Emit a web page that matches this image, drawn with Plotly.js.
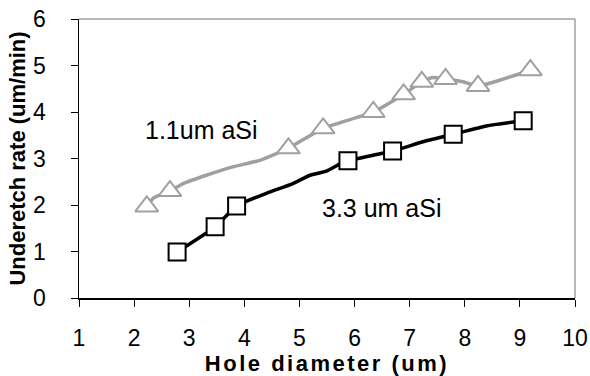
<!DOCTYPE html>
<html>
<head>
<meta charset="utf-8">
<script src="https://cdn.plot.ly/plotly-3.0.1.min.js"></script>
<style>
  html, body { margin: 0; padding: 0; background: #fff; }
  #chart { width: 590px; height: 376px; }
  .xtitle { letter-spacing: 2.5px; }
</style>
</head>
<body>
<div id="chart"></div>
<script>
// 1.1 um aSi (triangles)
const thinX = [2.23, 2.65, 4.80, 5.43, 6.34, 6.89, 7.22, 7.65, 8.24, 9.19];
const thinY = [1.97, 2.30, 3.22, 3.65, 4.00, 4.38, 4.65, 4.71, 4.56, 4.90];
// 1.1 um aSi drawn curve (includes intermediate points of the smoothed line)
const thinLineX = [2.23, 2.35, 2.65, 2.89, 3.31, 3.79, 4.28, 4.80, 5.43, 6.34, 6.89, 7.22, 7.42, 7.65, 7.97, 8.24, 9.19];
const thinLineY = [1.97, 2.15, 2.30, 2.46, 2.64, 2.82, 2.96, 3.22, 3.65, 4.00, 4.38, 4.65, 4.74, 4.71, 4.65, 4.56, 4.90];

// 3.3 um aSi (squares)
const thickX = [2.78, 3.47, 3.86, 5.88, 6.69, 7.79, 9.06];
const thickY = [0.99, 1.53, 1.98, 2.95, 3.16, 3.52, 3.81];
const thickLineX = [2.78, 3.47, 3.86, 4.40, 4.88, 5.19, 5.49, 5.73, 5.88, 6.69, 7.24, 7.79, 8.39, 9.06];
const thickLineY = [0.99, 1.53, 1.98, 2.25, 2.46, 2.64, 2.73, 2.88, 2.95, 3.16, 3.36, 3.52, 3.70, 3.81];

const xTicks = [1, 2, 3, 4, 5, 6, 7, 8, 9, 10];
const yTicks = [0, 1, 2, 3, 4, 5, 6];

const labels = [
  {text: '1.1um aSi', x: 3.22, y: 3.61},
  {text: '3.3 um aSi', x: 6.50, y: 1.94}
];

const gray = '#a0a0a0';
const font = 'Liberation Sans, Arial, sans-serif';

const traces = [
  {x: thinLineX, y: thinLineY, mode: 'lines', line: {color: gray, width: 3.5, shape: 'spline', smoothing: 0.5}, hoverinfo: 'skip'},
  {x: thickLineX, y: thickLineY, mode: 'lines', line: {color: '#000', width: 3.5, shape: 'spline', smoothing: 0.5}, hoverinfo: 'skip'},
  {x: thinX, y: thinY, mode: 'markers', marker: {symbol: 'triangle-up', size: 20, color: '#fff', line: {color: gray, width: 2}}},
  {x: thickX, y: thickY, mode: 'markers', marker: {symbol: 'square', size: 17, color: '#fff', line: {color: '#000', width: 2}}}
];

const layout = {
  width: 590, height: 376,
  margin: {l: 79, r: 15, t: 19, b: 78},
  showlegend: false,
  paper_bgcolor: '#fff', plot_bgcolor: '#fff',
  font: {family: font, color: '#000', size: 23},
  xaxis: {
    range: [1, 10], tickvals: xTicks, ticktext: xTicks.map(String),
    showgrid: false, zeroline: false, showline: true, linecolor: '#000', linewidth: 1.5,
    ticks: 'outside', ticklen: 7, tickcolor: '#000', tickwidth: 1,
    ticklabelstandoff: 12,
    tickfont: {size: 23, family: font},
    title: {text: 'Hole diameter (um)', font: {size: 22, family: font, weight: 'bold'}, standoff: 5}
  },
  yaxis: {
    range: [0, 6], tickvals: yTicks, ticktext: yTicks.map(String),
    showgrid: false, zeroline: false, showline: true, linecolor: '#000', linewidth: 1.5,
    ticks: 'outside', ticklen: 7, tickcolor: '#000', tickwidth: 1,
    ticklabelstandoff: 20,
    tickfont: {size: 23, family: font},
    title: {text: 'Underetch rate (um/min)', font: {size: 22, family: font, weight: 'bold'}, standoff: 1}
  },
  shapes: [
    {type: 'line', xref: 'paper', yref: 'paper', x0: 0, x1: 1, y0: 1, y1: 1, line: {color: gray, width: 1.5}},
    {type: 'line', xref: 'paper', yref: 'paper', x0: 1, x1: 1, y0: 0, y1: 1, line: {color: gray, width: 1.5}}
  ],
  annotations: labels.map(l => ({
    text: l.text, x: l.x, y: l.y, xref: 'x', yref: 'y', showarrow: false,
    font: {size: 25, family: font, color: '#000'}
  }))
};

Plotly.newPlot('chart', traces, layout, {staticPlot: true, displayModeBar: false});
</script>
</body>
</html>
